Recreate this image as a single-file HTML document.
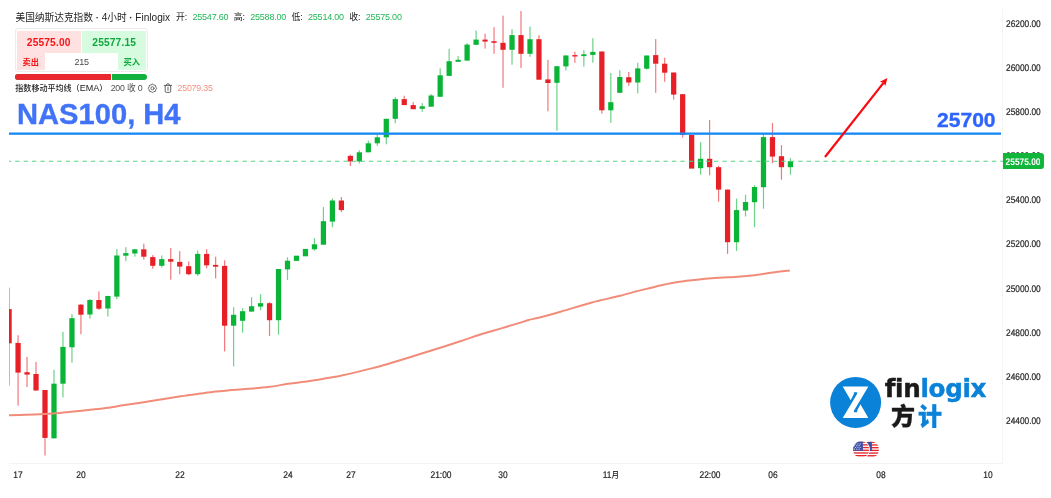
<!DOCTYPE html>
<html lang="zh"><head><meta charset="utf-8"><title>NAS100 H4</title>
<style>
html,body{margin:0;padding:0;background:#fff;}
body{width:1051px;height:498px;position:relative;overflow:hidden;font-family:"Liberation Sans","Noto Sans CJK SC",sans-serif;color:#222;}
#chart{position:absolute;left:0;top:0;}
.xl{position:absolute;top:469.5px;-webkit-text-stroke:0.2px #262626;width:60px;text-align:center;text-rendering:geometricPrecision;font-size:9.6px;line-height:12px;color:#262626;white-space:nowrap;transform:scaleX(0.875);}
.xl i{font-style:normal;font-size:8.8px;line-height:0;}
.yl{position:absolute;left:1005.5px;-webkit-text-stroke:0.2px #262626;font-size:9.6px;line-height:12px;color:#262626;white-space:nowrap;text-rendering:geometricPrecision;transform:scaleX(0.867);transform-origin:0 50%;}
.t{position:absolute;white-space:nowrap;}
#hdr{left:15.5px;top:11.4px;font-size:9.7px;line-height:14px;color:#222;}
#hdr em{font-style:normal;font-weight:bold;}
#hdr i{font-style:normal;font-size:10.1px;}
#ohlc{left:175.9px;top:10px;font-size:8.9px;line-height:14px;color:#222;}
#ohlc b{font-weight:normal;font-size:9px;color:#21b857;letter-spacing:-0.2px;margin:0 5.3px 0 5.2px;}
#panel{position:absolute;left:14.5px;top:28.2px;width:131px;height:42px;border:1px solid #ececec;border-radius:3px;background:#fff;}
#sell{position:absolute;left:1.2px;top:1.8px;width:64px;height:39.2px;background:#ffe1e1;}
#buy{position:absolute;left:66.7px;top:1.8px;width:63.8px;height:39.2px;background:#d6fbdf;}
#qty{position:absolute;left:29.4px;top:24.2px;width:73.3px;height:16.8px;background:#fff;font-size:9px;line-height:19.4px;letter-spacing:-0.3px;text-align:center;color:#484848;}
.pr{position:absolute;top:6.4px;font-size:10.2px;line-height:14px;font-weight:bold;width:64px;text-align:center;letter-spacing:0.15px;}
.bs{position:absolute;top:27.5px;font-size:8.2px;line-height:12px;font-weight:bold;}
#bar{position:absolute;left:15px;top:74.3px;width:132px;height:5.6px;border-radius:3px;overflow:hidden;background:#12b13f;}
#bar i{position:absolute;left:0;top:0;height:100%;width:96px;background:#e8282e;border-right:1px solid #fff;}
#ema{left:15.3px;top:82px;font-size:8.05px;line-height:12px;color:#222;font-weight:500;}
#ema i{font-style:normal;font-size:9px;}
#ema span{color:#505050;font-size:8.7px;font-weight:400;margin-left:1.2px;letter-spacing:-0.2px;}
#ema span u{text-decoration:none;font-size:8.8px;}
#emav{left:177.5px;top:82px;font-size:8.8px;line-height:12px;color:#f39182;letter-spacing:-0.2px;}
#title{left:16.9px;top:97.6px;font-size:28.6px;line-height:32px;font-weight:bold;color:#4173f8;transform:scaleX(1.019);transform-origin:0 0;-webkit-text-stroke:0.35px #4173f8;}
#lvl{left:936.7px;top:108.3px;font-size:19.6px;line-height:24px;font-weight:bold;color:#2f64fc;transform:scaleX(1.075);transform-origin:0 0;-webkit-text-stroke:0.35px #2f64fc;}
#plabel{position:absolute;left:1002.6px;top:153px;width:41px;height:15.8px;background:#10b53a;border-radius:0 3px 3px 0;color:#fff;font-size:9.6px;font-weight:bold;line-height:19.6px;text-align:center;text-rendering:geometricPrecision;overflow:hidden;}
#plabel span{display:inline-block;transform:scaleX(0.87);white-space:nowrap;margin:0 -4px;}
#fin{left:884.7px;top:374.3px;font-family:"DejaVu Sans","Liberation Sans",sans-serif;font-weight:bold;font-size:24.6px;line-height:30px;color:#1a1a1a;letter-spacing:-0.3px;-webkit-text-stroke:0.45px currentColor;}
#fin span{color:#0a82d8;-webkit-text-stroke:0.45px #0a82d8;}
#cn{left:891px;top:396.5px;font-family:"Noto Sans CJK SC","Liberation Sans",sans-serif;font-weight:900;font-size:24px;line-height:36px;color:#1a1a1a;letter-spacing:3px;-webkit-text-stroke:0.3px currentColor;}
#cn span{color:#0a82d8;-webkit-text-stroke:0.3px #0a82d8;}
</style></head><body>
<svg id="chart" width="1051" height="498" viewBox="0 0 1051 498">
<defs><clipPath id="cl"><rect x="9" y="0" width="994" height="463"/></clipPath>
<clipPath id="fc"><circle cx="0" cy="0" r="8.15"/></clipPath></defs>
<rect x="9" y="463" width="994" height="1" fill="#f3f3f3"/>
<rect x="1002" y="8" width="1" height="456" fill="#f5f5f5"/>
<g clip-path="url(#cl)">
<rect x="8.48" y="287.6" width="1.2" height="98.1" fill="#e72027" opacity="0.6"/>
<rect x="6.46" y="309.1" width="5.25" height="34.2" fill="#e72027"/>
<rect x="17.46" y="335.2" width="1.2" height="70.5" fill="#e72027" opacity="0.6"/>
<rect x="15.44" y="342.9" width="5.25" height="29.7" fill="#e72027"/>
<rect x="26.44" y="356.9" width="1.2" height="30.1" fill="#e72027" opacity="0.6"/>
<rect x="24.42" y="372.2" width="5.25" height="2.4" fill="#e72027"/>
<rect x="35.42" y="361.9" width="1.2" height="28.6" fill="#e72027" opacity="0.6"/>
<rect x="33.40" y="374.0" width="5.25" height="16.5" fill="#e72027"/>
<rect x="44.40" y="390.0" width="1.2" height="65.5" fill="#e72027" opacity="0.6"/>
<rect x="42.38" y="390.0" width="5.25" height="47.9" fill="#e72027"/>
<rect x="53.38" y="369.8" width="1.2" height="68.7" fill="#09b437" opacity="0.6"/>
<rect x="51.37" y="383.7" width="5.25" height="54.6" fill="#09b437"/>
<rect x="62.37" y="331.8" width="1.2" height="65.7" fill="#09b437" opacity="0.6"/>
<rect x="60.35" y="346.9" width="5.25" height="36.8" fill="#09b437"/>
<rect x="71.35" y="314.1" width="1.2" height="48.6" fill="#09b437" opacity="0.6"/>
<rect x="69.33" y="318.2" width="5.25" height="29.1" fill="#09b437"/>
<rect x="80.33" y="304.1" width="1.2" height="30.1" fill="#e72027" opacity="0.6"/>
<rect x="78.31" y="304.7" width="5.25" height="10.0" fill="#e72027"/>
<rect x="89.31" y="299.0" width="1.2" height="19.6" fill="#09b437" opacity="0.6"/>
<rect x="87.29" y="300.0" width="5.25" height="14.5" fill="#09b437"/>
<rect x="98.29" y="291.4" width="1.2" height="18.6" fill="#e72027" opacity="0.6"/>
<rect x="96.27" y="300.0" width="5.25" height="8.7" fill="#e72027"/>
<rect x="107.27" y="295.7" width="1.2" height="20.8" fill="#09b437" opacity="0.6"/>
<rect x="105.25" y="296.0" width="5.25" height="12.5" fill="#09b437"/>
<rect x="116.25" y="249.1" width="1.2" height="50.1" fill="#09b437" opacity="0.6"/>
<rect x="114.23" y="255.5" width="5.25" height="41.1" fill="#09b437"/>
<rect x="125.23" y="247.1" width="1.2" height="14.0" fill="#09b437" opacity="0.6"/>
<rect x="123.21" y="253.1" width="5.25" height="2.6" fill="#09b437"/>
<rect x="134.21" y="249.0" width="1.2" height="7.7" fill="#09b437" opacity="0.6"/>
<rect x="132.19" y="249.3" width="5.25" height="4.2" fill="#09b437"/>
<rect x="143.20" y="243.7" width="1.2" height="15.8" fill="#e72027" opacity="0.6"/>
<rect x="141.18" y="249.3" width="5.25" height="7.4" fill="#e72027"/>
<rect x="152.18" y="255.1" width="1.2" height="13.7" fill="#e72027" opacity="0.6"/>
<rect x="150.16" y="257.1" width="5.25" height="8.7" fill="#e72027"/>
<rect x="161.16" y="255.5" width="1.2" height="12.1" fill="#09b437" opacity="0.6"/>
<rect x="159.14" y="259.1" width="5.25" height="6.7" fill="#09b437"/>
<rect x="170.14" y="248.1" width="1.2" height="31.5" fill="#e72027" opacity="0.6"/>
<rect x="168.12" y="259.1" width="5.25" height="2.6" fill="#e72027"/>
<rect x="179.12" y="251.1" width="1.2" height="23.1" fill="#e72027" opacity="0.6"/>
<rect x="177.10" y="261.9" width="5.25" height="4.7" fill="#e72027"/>
<rect x="188.10" y="261.5" width="1.2" height="13.7" fill="#e72027" opacity="0.6"/>
<rect x="186.08" y="266.2" width="5.25" height="8.0" fill="#e72027"/>
<rect x="197.08" y="250.5" width="1.2" height="25.3" fill="#09b437" opacity="0.6"/>
<rect x="195.06" y="253.9" width="5.25" height="20.3" fill="#09b437"/>
<rect x="206.06" y="249.2" width="1.2" height="19.1" fill="#e72027" opacity="0.6"/>
<rect x="204.04" y="253.9" width="5.25" height="11.4" fill="#e72027"/>
<rect x="215.04" y="256.7" width="1.2" height="21.7" fill="#e72027" opacity="0.6"/>
<rect x="213.02" y="264.9" width="5.25" height="1.8" fill="#e72027"/>
<rect x="224.02" y="260.3" width="1.2" height="91.2" fill="#e72027" opacity="0.6"/>
<rect x="222.00" y="265.9" width="5.25" height="59.8" fill="#e72027"/>
<rect x="233.01" y="307.2" width="1.2" height="59.1" fill="#09b437" opacity="0.6"/>
<rect x="230.99" y="314.8" width="5.25" height="10.9" fill="#09b437"/>
<rect x="241.99" y="308.2" width="1.2" height="24.5" fill="#09b437" opacity="0.6"/>
<rect x="239.97" y="311.2" width="5.25" height="9.6" fill="#09b437"/>
<rect x="250.97" y="297.1" width="1.2" height="14.5" fill="#09b437" opacity="0.6"/>
<rect x="248.95" y="306.2" width="5.25" height="5.4" fill="#09b437"/>
<rect x="259.95" y="294.1" width="1.2" height="16.1" fill="#09b437" opacity="0.6"/>
<rect x="257.93" y="303.2" width="5.25" height="3.4" fill="#09b437"/>
<rect x="268.93" y="302.2" width="1.2" height="33.7" fill="#e72027" opacity="0.6"/>
<rect x="266.91" y="303.2" width="5.25" height="17.0" fill="#e72027"/>
<rect x="277.91" y="269.0" width="1.2" height="65.7" fill="#09b437" opacity="0.6"/>
<rect x="275.89" y="269.0" width="5.25" height="51.2" fill="#09b437"/>
<rect x="286.89" y="257.3" width="1.2" height="22.8" fill="#09b437" opacity="0.6"/>
<rect x="284.87" y="260.7" width="5.25" height="8.7" fill="#09b437"/>
<rect x="293.85" y="255.7" width="5.25" height="5.2" fill="#09b437"/>
<rect x="302.83" y="248.9" width="5.25" height="7.4" fill="#09b437"/>
<rect x="313.83" y="238.2" width="1.2" height="12.5" fill="#09b437" opacity="0.6"/>
<rect x="311.81" y="244.3" width="5.25" height="5.0" fill="#09b437"/>
<rect x="322.81" y="207.1" width="1.2" height="37.6" fill="#09b437" opacity="0.6"/>
<rect x="320.79" y="221.2" width="5.25" height="23.5" fill="#09b437"/>
<rect x="331.80" y="198.5" width="1.2" height="28.7" fill="#09b437" opacity="0.6"/>
<rect x="329.78" y="200.5" width="5.25" height="21.1" fill="#09b437"/>
<rect x="340.78" y="197.1" width="1.2" height="15.0" fill="#e72027" opacity="0.6"/>
<rect x="338.76" y="200.5" width="5.25" height="9.6" fill="#e72027"/>
<rect x="349.76" y="154.7" width="1.2" height="11.3" fill="#e72027" opacity="0.6"/>
<rect x="347.74" y="155.9" width="5.25" height="5.5" fill="#e72027"/>
<rect x="358.74" y="150.3" width="1.2" height="13.1" fill="#09b437" opacity="0.6"/>
<rect x="356.72" y="152.3" width="5.25" height="9.1" fill="#09b437"/>
<rect x="367.72" y="140.7" width="1.2" height="11.6" fill="#09b437" opacity="0.6"/>
<rect x="365.70" y="143.3" width="5.25" height="9.0" fill="#09b437"/>
<rect x="376.70" y="134.7" width="1.2" height="11.2" fill="#09b437" opacity="0.6"/>
<rect x="374.68" y="137.3" width="5.25" height="6.0" fill="#09b437"/>
<rect x="385.68" y="118.8" width="1.2" height="25.5" fill="#09b437" opacity="0.6"/>
<rect x="383.66" y="118.8" width="5.25" height="18.5" fill="#09b437"/>
<rect x="394.66" y="97.1" width="1.2" height="26.1" fill="#09b437" opacity="0.6"/>
<rect x="392.64" y="99.1" width="5.25" height="19.7" fill="#09b437"/>
<rect x="403.64" y="95.7" width="1.2" height="9.4" fill="#e72027" opacity="0.6"/>
<rect x="401.62" y="99.1" width="5.25" height="6.0" fill="#e72027"/>
<rect x="412.62" y="102.1" width="1.2" height="7.1" fill="#e72027" opacity="0.6"/>
<rect x="410.60" y="105.1" width="5.25" height="4.1" fill="#e72027"/>
<rect x="421.61" y="103.1" width="1.2" height="8.7" fill="#09b437" opacity="0.6"/>
<rect x="419.59" y="106.3" width="5.25" height="2.5" fill="#09b437"/>
<rect x="430.59" y="94.1" width="1.2" height="12.6" fill="#09b437" opacity="0.6"/>
<rect x="428.57" y="95.5" width="5.25" height="11.2" fill="#09b437"/>
<rect x="439.57" y="68.3" width="1.2" height="28.5" fill="#09b437" opacity="0.6"/>
<rect x="437.55" y="75.3" width="5.25" height="21.5" fill="#09b437"/>
<rect x="448.55" y="48.8" width="1.2" height="27.1" fill="#09b437" opacity="0.6"/>
<rect x="446.53" y="61.2" width="5.25" height="14.7" fill="#09b437"/>
<rect x="457.53" y="56.2" width="1.2" height="5.6" fill="#09b437" opacity="0.6"/>
<rect x="455.51" y="59.8" width="5.25" height="2.0" fill="#09b437"/>
<rect x="466.51" y="43.2" width="1.2" height="17.4" fill="#09b437" opacity="0.6"/>
<rect x="464.49" y="44.6" width="5.25" height="16.0" fill="#09b437"/>
<rect x="475.49" y="30.5" width="1.2" height="14.3" fill="#09b437" opacity="0.6"/>
<rect x="473.47" y="39.6" width="5.25" height="5.2" fill="#09b437"/>
<rect x="484.47" y="33.7" width="1.2" height="14.9" fill="#e72027" opacity="0.6"/>
<rect x="482.45" y="39.6" width="5.25" height="2.0" fill="#e72027"/>
<rect x="493.45" y="27.1" width="1.2" height="26.7" fill="#e72027" opacity="0.6"/>
<rect x="491.43" y="41.2" width="5.25" height="1.6" fill="#e72027"/>
<rect x="502.43" y="15.7" width="1.2" height="72.1" fill="#e72027" opacity="0.6"/>
<rect x="500.41" y="42.8" width="5.25" height="7.0" fill="#e72027"/>
<rect x="511.42" y="29.1" width="1.2" height="35.6" fill="#09b437" opacity="0.6"/>
<rect x="509.40" y="35.1" width="5.25" height="14.7" fill="#09b437"/>
<rect x="520.40" y="11.0" width="1.2" height="56.9" fill="#e72027" opacity="0.6"/>
<rect x="518.38" y="35.1" width="5.25" height="18.7" fill="#e72027"/>
<rect x="529.38" y="26.5" width="1.2" height="30.3" fill="#09b437" opacity="0.6"/>
<rect x="527.36" y="39.2" width="5.25" height="14.6" fill="#09b437"/>
<rect x="538.36" y="35.1" width="1.2" height="44.6" fill="#e72027" opacity="0.6"/>
<rect x="536.34" y="39.2" width="5.25" height="40.5" fill="#e72027"/>
<rect x="547.34" y="59.8" width="1.2" height="51.5" fill="#e72027" opacity="0.6"/>
<rect x="545.32" y="79.4" width="5.25" height="3.6" fill="#e72027"/>
<rect x="556.32" y="66.2" width="1.2" height="64.6" fill="#09b437" opacity="0.6"/>
<rect x="554.30" y="66.2" width="5.25" height="16.6" fill="#09b437"/>
<rect x="565.30" y="55.2" width="1.2" height="15.4" fill="#09b437" opacity="0.6"/>
<rect x="563.28" y="55.5" width="5.25" height="10.9" fill="#09b437"/>
<rect x="574.28" y="51.7" width="1.2" height="11.1" fill="#e72027" opacity="0.6"/>
<rect x="572.26" y="55.1" width="5.25" height="1.4" fill="#e72027"/>
<rect x="583.26" y="50.1" width="1.2" height="16.5" fill="#09b437" opacity="0.6"/>
<rect x="581.24" y="54.3" width="5.25" height="1.8" fill="#09b437"/>
<rect x="592.25" y="38.2" width="1.2" height="24.5" fill="#09b437" opacity="0.6"/>
<rect x="590.23" y="51.9" width="5.25" height="3.0" fill="#09b437"/>
<rect x="601.23" y="51.5" width="1.2" height="62.2" fill="#e72027" opacity="0.6"/>
<rect x="599.21" y="51.5" width="5.25" height="58.8" fill="#e72027"/>
<rect x="610.21" y="73.0" width="1.2" height="49.9" fill="#09b437" opacity="0.6"/>
<rect x="608.19" y="102.2" width="5.25" height="8.1" fill="#09b437"/>
<rect x="619.19" y="70.2" width="1.2" height="22.6" fill="#09b437" opacity="0.6"/>
<rect x="617.17" y="77.0" width="5.25" height="15.8" fill="#09b437"/>
<rect x="628.17" y="72.0" width="1.2" height="13.8" fill="#e72027" opacity="0.6"/>
<rect x="626.15" y="77.2" width="5.25" height="5.3" fill="#e72027"/>
<rect x="637.15" y="62.8" width="1.2" height="30.5" fill="#09b437" opacity="0.6"/>
<rect x="635.13" y="68.4" width="5.25" height="14.1" fill="#09b437"/>
<rect x="646.13" y="55.5" width="1.2" height="14.0" fill="#09b437" opacity="0.6"/>
<rect x="644.11" y="55.5" width="5.25" height="13.2" fill="#09b437"/>
<rect x="655.11" y="39.1" width="1.2" height="53.7" fill="#e72027" opacity="0.6"/>
<rect x="653.09" y="55.1" width="5.25" height="8.6" fill="#e72027"/>
<rect x="664.09" y="57.7" width="1.2" height="24.1" fill="#e72027" opacity="0.6"/>
<rect x="662.07" y="63.7" width="5.25" height="9.0" fill="#e72027"/>
<rect x="673.07" y="72.5" width="1.2" height="27.1" fill="#e72027" opacity="0.6"/>
<rect x="671.05" y="72.5" width="5.25" height="22.1" fill="#e72027"/>
<rect x="682.06" y="94.2" width="1.2" height="43.4" fill="#e72027" opacity="0.6"/>
<rect x="680.04" y="94.2" width="5.25" height="40.6" fill="#e72027"/>
<rect x="689.02" y="135.0" width="5.25" height="33.6" fill="#e72027"/>
<rect x="700.02" y="142.1" width="1.2" height="32.6" fill="#09b437" opacity="0.6"/>
<rect x="698.00" y="158.8" width="5.25" height="9.4" fill="#09b437"/>
<rect x="709.00" y="120.0" width="1.2" height="55.3" fill="#e72027" opacity="0.6"/>
<rect x="706.98" y="158.8" width="5.25" height="8.4" fill="#e72027"/>
<rect x="717.98" y="165.8" width="1.2" height="35.9" fill="#e72027" opacity="0.6"/>
<rect x="715.96" y="167.2" width="5.25" height="22.4" fill="#e72027"/>
<rect x="726.96" y="189.6" width="1.2" height="64.3" fill="#e72027" opacity="0.6"/>
<rect x="724.94" y="189.6" width="5.25" height="52.6" fill="#e72027"/>
<rect x="735.94" y="198.6" width="1.2" height="52.3" fill="#09b437" opacity="0.6"/>
<rect x="733.92" y="210.1" width="5.25" height="32.1" fill="#09b437"/>
<rect x="744.92" y="194.7" width="1.2" height="21.8" fill="#09b437" opacity="0.6"/>
<rect x="742.90" y="202.0" width="5.25" height="8.5" fill="#09b437"/>
<rect x="753.90" y="185.1" width="1.2" height="42.1" fill="#09b437" opacity="0.6"/>
<rect x="751.88" y="187.0" width="5.25" height="15.2" fill="#09b437"/>
<rect x="762.88" y="134.1" width="1.2" height="74.6" fill="#09b437" opacity="0.6"/>
<rect x="760.86" y="137.1" width="5.25" height="50.1" fill="#09b437"/>
<rect x="771.87" y="123.1" width="1.2" height="40.1" fill="#e72027" opacity="0.6"/>
<rect x="769.85" y="137.1" width="5.25" height="19.5" fill="#e72027"/>
<rect x="780.85" y="145.1" width="1.2" height="34.6" fill="#e72027" opacity="0.6"/>
<rect x="778.83" y="156.2" width="5.25" height="11.0" fill="#e72027"/>
<rect x="789.83" y="158.2" width="1.2" height="16.5" fill="#09b437" opacity="0.6"/>
<rect x="787.81" y="161.2" width="5.25" height="6.0" fill="#09b437"/>
<path d="M8.8,415.2 C11.7,415.1 20.0,414.9 26.0,414.7 C32.0,414.5 39.3,414.2 45.0,413.9 C50.7,413.6 54.8,413.3 60.0,412.9 C65.2,412.5 70.7,411.9 76.0,411.3 C81.3,410.8 86.6,410.2 92.0,409.6 C97.4,409.0 103.0,408.4 108.4,407.7 C113.8,406.9 119.1,405.9 124.5,405.1 C129.9,404.3 134.6,403.6 140.6,402.7 C146.6,401.8 153.9,400.6 160.6,399.5 C167.3,398.4 174.1,397.3 180.7,396.3 C187.3,395.3 194.1,394.4 200.0,393.6 C205.9,392.8 210.8,392.1 216.1,391.5 C221.4,390.9 226.8,390.6 232.1,390.1 C237.4,389.7 242.2,389.3 248.2,388.8 C254.2,388.3 261.6,387.8 268.3,387.0 C275.0,386.2 281.7,384.8 288.4,383.8 C295.1,382.8 302.4,382.1 308.4,381.2 C314.4,380.3 319.1,379.5 324.5,378.6 C329.9,377.7 335.2,376.8 340.6,375.7 C346.0,374.6 351.2,373.4 356.6,372.1 C362.0,370.8 367.3,369.5 372.7,368.1 C378.1,366.7 384.2,365.0 388.8,363.7 C393.4,362.4 394.8,361.8 400.0,360.2 C405.2,358.6 413.4,356.1 420.1,354.0 C426.8,351.9 433.5,349.8 440.2,347.7 C446.9,345.6 453.5,343.5 460.2,341.3 C466.9,339.1 473.6,336.6 480.3,334.5 C487.0,332.4 493.7,330.6 500.4,328.6 C507.1,326.6 515.8,324.0 520.5,322.6 C525.2,321.2 525.1,320.9 528.5,320.0 C531.9,319.1 535.2,318.6 540.6,317.2 C546.0,315.8 553.9,313.6 560.6,311.7 C567.3,309.8 575.3,307.3 580.7,305.7 C586.1,304.1 589.6,303.1 592.8,302.2 C596.0,301.3 595.5,301.6 600.0,300.5 C604.5,299.4 613.4,297.5 620.1,295.8 C626.8,294.1 633.5,292.1 640.2,290.4 C646.9,288.7 654.9,286.6 660.2,285.4 C665.6,284.1 667.6,283.7 672.3,282.9 C677.0,282.1 682.4,281.4 688.4,280.6 C694.4,279.9 701.7,279.0 708.4,278.4 C715.1,277.8 723.1,277.5 728.5,277.2 C733.9,276.9 736.2,276.9 740.6,276.6 C745.0,276.3 749.6,275.8 754.6,275.2 C759.6,274.6 764.8,273.6 770.7,272.8 C776.6,272.0 786.6,270.9 789.8,270.5" fill="none" stroke="#f28c7a" stroke-width="2" stroke-linejoin="round" stroke-linecap="butt"/>
</g>
<line x1="9" y1="161.2" x2="1003" y2="161.2" stroke="#58d385" stroke-width="1.1" stroke-dasharray="4.4 4.02" stroke-dashoffset="2.28"/>
<rect x="9" y="132.5" width="992" height="2.3" fill="#1688f5"/>
<line x1="825" y1="157" x2="883.7" y2="82.65" stroke="#fa0a10" stroke-width="2.2"/>
<polygon points="887.4,78 885.4,86.1 883.6,82.8 879.9,81.8" fill="#fa0a10"/>
<!-- logo -->
<circle cx="855.6" cy="402.4" r="25.5" fill="#0a82d8"/>
<rect x="842.7" y="386.5" width="25.7" height="31.5" fill="#fff"/>
<polygon points="842.0,385.3 842.7,386.5 850.7,400.2 854.0,393.7 853.8,392.3 857.2,392.3 857.2,393.7 842.7,418.0 842.0,419.2" fill="#0a82d8"/>
<polygon points="869.1,419.2 868.4,418.0 860.4,404.3 857.1,410.8 857.3,412.2 853.9,412.2 853.9,410.8 868.4,386.5 869.1,385.3" fill="#0a82d8"/>
<!-- flags -->
<g transform="translate(870.9,449.6)"><g clip-path="url(#fc)">
<rect x="-8" y="-8" width="16" height="16" fill="#fff"/>
<g fill="#e5252b"><rect x="-8" y="-8" width="16" height="1.35"/><rect x="-8" y="-5.3" width="16" height="1.35"/><rect x="-8" y="-2.6" width="16" height="1.35"/><rect x="-8" y="0.1" width="16" height="1.35"/><rect x="-8" y="2.8" width="16" height="1.35"/><rect x="-8" y="5.5" width="16" height="1.35"/></g>
<rect x="-8" y="-8" width="9" height="9.2" fill="#3c4fa8"/></g></g>
<circle cx="861.1" cy="449.5" r="8.9" fill="#fff"/>
<g transform="translate(861.1,449.5)"><g clip-path="url(#fc)">
<rect x="-8" y="-8" width="16" height="16" fill="#fff"/>
<g fill="#e5252b"><rect x="-8" y="-8" width="16" height="1.35"/><rect x="-8" y="-5.3" width="16" height="1.35"/><rect x="-8" y="-2.6" width="16" height="1.35"/><rect x="-8" y="0.1" width="16" height="1.35"/><rect x="-8" y="2.8" width="16" height="1.35"/><rect x="-8" y="5.5" width="16" height="1.35"/></g>
<rect x="-8" y="-8" width="9.8" height="9.2" fill="#3c4fa8"/>
<g fill="#fff" opacity="0.85"><circle cx="-5.5" cy="-5.6" r="0.6"/><circle cx="-3.2" cy="-5.6" r="0.6"/><circle cx="-0.9" cy="-5.6" r="0.6"/><circle cx="-6.6" cy="-3.8" r="0.6"/><circle cx="-4.3" cy="-3.8" r="0.6"/><circle cx="-2" cy="-3.8" r="0.6"/><circle cx="-5.5" cy="-2" r="0.6"/><circle cx="-3.2" cy="-2" r="0.6"/><circle cx="-0.9" cy="-2" r="0.6"/><circle cx="-6.6" cy="-0.3" r="0.6"/><circle cx="-4.3" cy="-0.3" r="0.6"/><circle cx="-2" cy="-0.3" r="0.6"/></g>
</g></g>
<!-- gear + trash icons -->
<g fill="none" stroke="#484848" stroke-linejoin="round" stroke-linecap="round">
<polygon points="152.45,84.05 153.83,84.97 155.46,85.29 155.78,86.92 156.70,88.30 155.78,89.68 155.46,91.31 153.83,91.63 152.45,92.55 151.07,91.63 149.44,91.31 149.12,89.68 148.20,88.30 149.12,86.92 149.44,85.29 151.07,84.97" stroke-width="0.8"/>
<circle cx="152.45" cy="88.3" r="1.6" stroke-width="0.8"/>
<path stroke-width="0.85" d="M164.3,85.4h7.3M166.4,85.2q0,-1.6 1.55,-1.6q1.55,0 1.55,1.6M165.2,85.6v5.7q0,1.1 1,1.1h3.5q1,0 1,-1.1v-5.7M168,87.2v3.2"/>
</g>
</svg>
<div class="t" id="hdr">美国纳斯达克指数 <em>·</em> <i>4</i>小时 <em>·</em> <i>Finlogix</i></div>
<div class="t" id="ohlc">开:<b>25547.60</b>高:<b>25588.00</b>低:<b>25514.00</b>收:<b>25575.00</b></div>
<div id="panel"><div id="sell"></div><div id="buy"></div><div id="qty">215</div>
<div class="pr" style="left:1.2px;color:#f51414">25575.00</div><div class="pr" style="left:66.7px;color:#0fa83c">25577.15</div>
<div class="bs" style="left:7px;color:#f51414">卖出</div><div class="bs" style="left:108px;color:#0fa83c">买入</div></div>
<div id="bar"><i></i></div>
<div class="t" id="ema">指数移动平均线（<i>EMA</i>） <span><u>200</u> 收 <u>0</u></span></div>
<div class="t" id="emav">25079.35</div>
<div class="t" id="title">NAS100, H4</div>
<div class="t" id="lvl">25700</div>
<div class="xl" style="left:-11.7px">17</div>
<div class="xl" style="left:51.2px">20</div>
<div class="xl" style="left:150.0px">22</div>
<div class="xl" style="left:257.8px">24</div>
<div class="xl" style="left:320.7px">27</div>
<div class="xl" style="left:410.5px">21:00</div>
<div class="xl" style="left:473.3px">30</div>
<div class="xl" style="left:581.1px">11<i>月</i></div>
<div class="xl" style="left:679.9px">22:00</div>
<div class="xl" style="left:742.8px">06</div>
<div class="xl" style="left:850.5px">08</div>
<div class="xl" style="left:958.3px">10</div>
<div class="yl" style="top:18.6px">26200.00</div>
<div class="yl" style="top:62.8px">26000.00</div>
<div class="yl" style="top:107.0px">25800.00</div>
<div class="yl" style="top:151.1px">25600.00</div>
<div class="yl" style="top:195.3px">25400.00</div>
<div class="yl" style="top:239.4px">25200.00</div>
<div class="yl" style="top:283.6px">25000.00</div>
<div class="yl" style="top:327.8px">24800.00</div>
<div class="yl" style="top:371.9px">24600.00</div>
<div class="yl" style="top:416.1px">24400.00</div>
<div id="plabel"><span>25575.00</span></div>
<div class="t" id="fin">fin<span>logix</span></div>
<div class="t" id="cn">方<span>计</span></div>
</body></html>
